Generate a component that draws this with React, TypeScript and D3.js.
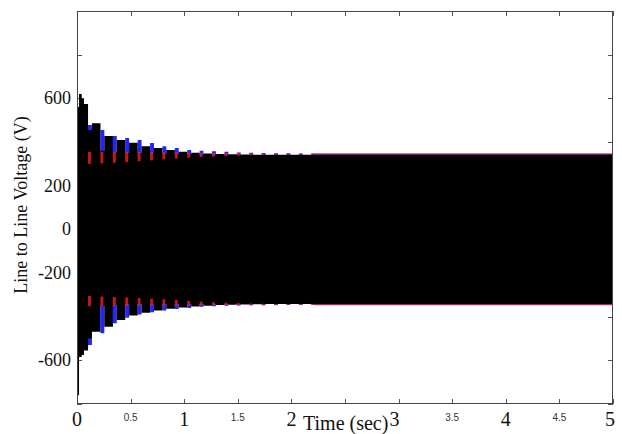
import React, { useEffect, useRef } from 'react';
import * as d3 from 'd3';

// column start times (s); after the first four, columns alternate colour crest / black crest
const times = [
  0, 0.019, 0.044, 0.065,
  0.103, 0.139, 0.219, 0.255, 0.335, 0.371, 0.450, 0.486, 0.566, 0.602,
  0.682, 0.718, 0.797, 0.833, 0.913, 0.949, 1.029, 1.065, 1.144, 1.180,
  1.260, 1.296, 1.376, 1.412, 1.491, 1.527, 1.607, 1.643, 1.723, 1.759,
  1.839, 1.875, 1.954, 1.990, 2.070, 2.106, 2.186, 2.222, 5.0,
];

// envelopes (V) of the three line voltages
const blackUp = [
  560, 620, 600, 574,
  455, 486, 360, 427, 352, 409, 350, 397, 350, 381,
  348, 372, 346, 363, 345, 355, 344, 351, 343, 347,
  342, 345, 342, 344, 342, 343, 342, 342, 342, 342,
  342, 342, 342, 342, 342, 342, 342, 342, 342,
];
const blackLo = [
  -760, -585, -575, -555,
  -500, -469, -350, -446, -345, -415, -342, -395, -342, -382,
  -342, -372, -342, -364, -342, -358, -342, -353, -342, -350,
  -342, -347, -342, -345, -342, -344, -342, -343, -342, -342,
  -342, -342, -342, -342, -342, -342, -342, -342, -342,
];
const blueUp = [
  450, 450, 450, 450,
  478, 340, 455, 340, 427, 340, 418, 340, 409, 340,
  395, 340, 381, 340, 372, 340, 363, 340, 360, 340,
  358, 340, 355, 340, 352, 340, 351, 340, 350, 340,
  349, 340, 348, 340, 347, 340, 347, 346, 346,
];
const blueLo = [
  -540, -540, -540, -540,
  -530, -340, -476, -340, -430, -340, -405, -340, -390, -340,
  -380, -340, -372, -340, -365, -340, -360, -340, -355, -340,
  -352, -340, -350, -340, -349, -340, -348, -340, -348, -340,
  -347, -340, -347, -340, -346, -340, -346, -346, -346,
];
// red crest marks (only where red shows)
const redUpTop = [
  null, null, null, null,
  355, null, 355, null, 355, null, 355, null, 354, null,
  354, null, 353, null, 352, null, 351, null, 350, null,
  350, null, 349, null, 349, null, 348, null, 348, null,
  348, null, 348, null, 348, null, 348, 348, null,
];
const redUpBot = [
  null, null, null, null,
  300, null, 302, null, 305, null, 308, null, 312, null,
  316, null, 320, null, 324, null, 328, null, 331, null,
  334, null, 336, null, 338, null, 340, null, 341, null,
  342, null, 342, null, 342, null, 342, 343, null,
];
const redLoTop = [
  null, null, null, null,
  -305, null, -308, null, -310, null, -312, null, -315, null,
  -318, null, -320, null, -324, null, -328, null, -331, null,
  -334, null, -336, null, -338, null, -340, null, -341, null,
  -342, null, -342, null, -342, null, -342, -343, null,
];
const redLoBot = [
  null, null, null, null,
  -352, null, -351, null, -350, null, -350, null, -349, null,
  -349, null, -349, null, -348, null, -348, null, -348, null,
  -348, null, -348, null, -348, null, -348, null, -348, null,
  -348, null, -347, null, -347, null, -347, -348, null,
];

const yLabels = [600, 200, 0, -200, -600];
const xBigLabels = [0, 1, 2, 3, 4, 5];
const xSmallLabels = [0.5, 1.5, 3.5, 4.5];

const serif = '"Liberation Serif", "Times New Roman", serif';

const App = () => {
  const ref = useRef(null);

  useEffect(() => {
    const svg = d3.select(ref.current);
    svg.selectAll('*').remove();

    const left = 77, right = 613, top = 11, bottom = 404;
    const x = d3.scaleLinear().domain([0, 5]).range([left, right]);
    const y = d3.scaleLinear().domain([-800, 1000]).range([bottom, top]);

    svg.append('rect').attr('width', 622).attr('height', 434).attr('fill', '#fff');

    // ticks (inside)
    const tg = svg.append('g').attr('stroke', '#555').attr('stroke-width', 1);
    d3.range(0, 5.001, 0.5).forEach(t => {
      const xx = Math.round(x(t)) + 0.5;
      tg.append('line').attr('x1', xx).attr('x2', xx).attr('y1', bottom).attr('y2', bottom - 5);
      tg.append('line').attr('x1', xx).attr('x2', xx).attr('y1', top).attr('y2', top + 5);
    });
    d3.range(-800, 1001, 200).forEach(v => {
      const yy = Math.round(y(v)) + 0.5;
      tg.append('line').attr('x1', left).attr('x2', left + 5).attr('y1', yy).attr('y2', yy);
      tg.append('line').attr('x1', right).attr('x2', right - 5).attr('y1', yy).attr('y2', yy);
    });

    const idx = d3.range(times.length);
    const area = (hi, lo) => d3.area()
      .curve(d3.curveStepAfter)
      .x(i => x(times[i]))
      .y0(i => y(lo[i]))
      .y1(i => y(hi[i]));

    svg.append('path').attr('d', area(blueUp, blueLo)(idx)).attr('fill', '#2323ff');
    svg.append('path').attr('d', area(blackUp, blackLo)(idx)).attr('fill', '#000');

    const marks = idx.filter(i => redUpTop[i] != null && i < times.length - 1);
    const w = i => Math.max(1, x(times[i + 1]) - x(times[i]) - (i < 41 ? 1 : 0));
    const rg = svg.append('g').attr('fill', '#ff1a1a').attr('fill-opacity', 0.8);
    rg.selectAll('rect.up').data(marks).enter().append('rect')
      .attr('x', i => x(times[i]))
      .attr('width', w)
      .attr('y', i => y(redUpTop[i]))
      .attr('height', i => y(redUpBot[i]) - y(redUpTop[i]));
    rg.selectAll('rect.lo').data(marks).enter().append('rect')
      .attr('x', i => x(times[i]))
      .attr('width', w)
      .attr('y', i => y(redLoTop[i]))
      .attr('height', i => y(redLoBot[i]) - y(redLoTop[i]));

    // frame
    svg.append('rect')
      .attr('x', left + 0.5).attr('y', top + 0.5)
      .attr('width', right - left - 1).attr('height', bottom - top - 1)
      .attr('fill', 'none').attr('stroke', '#444').attr('stroke-width', 1);

    // y labels
    svg.append('g').selectAll('text').data(yLabels).enter().append('text')
      .attr('x', 71).attr('y', v => y(v))
      .attr('text-anchor', 'end').attr('dominant-baseline', 'central')
      .attr('font-family', serif).attr('font-size', 18).attr('fill', '#111')
      .text(v => String(v));

    // x labels
    svg.append('g').selectAll('text').data(xBigLabels).enter().append('text')
      .attr('x', t => x(t) + (t === 3 ? -4 : t === 5 ? -3 : 0)).attr('y', 426)
      .attr('text-anchor', 'middle')
      .attr('font-family', serif).attr('font-size', 20).attr('fill', '#111')
      .text(t => String(t));
    svg.append('g').selectAll('text').data(xSmallLabels).enter().append('text')
      .attr('x', t => x(t)).attr('y', 421)
      .attr('text-anchor', 'middle')
      .attr('font-family', '"Liberation Sans", Arial, sans-serif').attr('font-size', 10).attr('fill', '#333')
      .text(t => String(t));

    svg.append('text')
      .attr('x', 303).attr('y', 430)
      .attr('font-family', serif).attr('font-size', 20).attr('fill', '#111')
      .text('Time (sec)');

    svg.append('text')
      .attr('transform', 'translate(21,205) rotate(-90)')
      .attr('text-anchor', 'middle').attr('dominant-baseline', 'central')
      .attr('font-family', serif).attr('font-size', 18).attr('fill', '#111')
      .text('Line to Line Voltage (V)');
  }, []);

  return (
    <svg ref={ref} width={622} height={434}
      style={{ position: 'absolute', left: 0, top: 0, display: 'block' }} />
  );
};

export default App;
